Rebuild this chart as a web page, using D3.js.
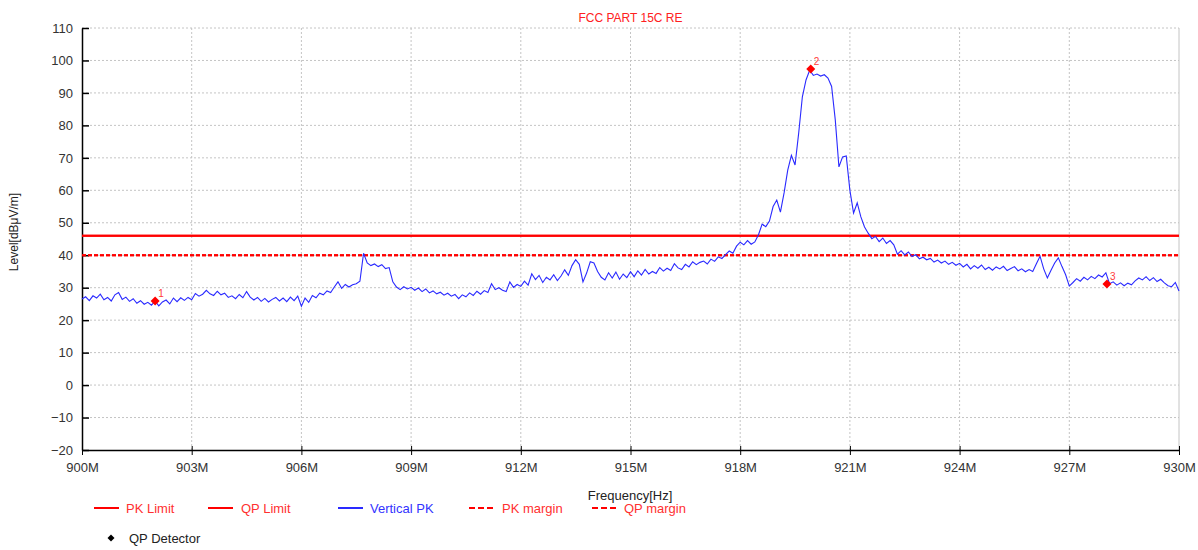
<!DOCTYPE html>
<html><head><meta charset="utf-8">
<script src="https://cdn.jsdelivr.net/npm/d3@7"></script>
<style>
body{margin:0;background:#fff;}
svg text{font-family:"Liberation Sans",Arial,sans-serif;}
</style></head>
<body><svg id="c" width="1198" height="550"></svg>
<script>
// ---- data ----
const freqStart = 900, freqStep = 0.1; // MHz
const verticalPK = [
26.5,27.2,26.0,27.5,26.8,28.0,26.3,27.0,25.9,27.8,
28.5,26.4,27.1,25.8,26.6,25.2,26.0,24.9,25.5,24.6,
25.9,24.4,25.6,26.2,25.0,26.8,25.7,26.9,26.1,27.0,
26.3,28.2,27.4,28.0,29.2,28.1,27.6,28.9,27.8,28.3,
27.0,27.5,26.6,27.9,26.9,28.8,27.1,26.2,27.0,25.8,
26.7,25.6,26.4,27.0,25.9,26.8,25.7,27.1,26.0,27.4,
24.3,26.8,25.5,27.6,26.9,28.3,27.8,29.0,28.5,30.2,
31.8,29.8,31.0,30.2,30.9,31.2,32.0,40.6,37.6,36.8,
37.3,36.5,37.1,35.9,36.2,31.8,30.2,29.4,30.3,29.6,
30.1,29.2,29.9,28.8,29.6,28.4,29.0,28.1,28.6,27.7,
28.3,27.4,27.9,26.6,27.8,27.2,28.4,27.6,28.9,28.0,
29.1,28.5,31.2,29.4,30.0,29.2,28.8,31.8,30.1,31.0,
30.4,32.0,30.8,34.3,32.5,33.8,31.6,33.2,32.4,34.0,
32.2,33.6,35.5,33.8,36.8,38.6,37.2,31.8,34.5,38.0,
37.6,35.0,33.2,32.4,34.6,33.0,34.8,32.6,34.2,33.1,
34.9,33.4,35.2,33.9,35.6,34.2,35.0,34.4,36.2,35.1,
36.0,35.3,37.4,36.1,35.6,37.2,36.4,38.0,37.1,37.8,
38.2,37.3,38.8,38.1,39.5,39.0,40.2,41.3,40.6,42.8,
44.0,43.2,44.5,43.4,44.1,46.3,49.6,48.8,50.5,55.0,
57.0,53.3,59.2,66.2,70.8,67.8,77.7,88.8,94.0,97.0,
95.4,95.8,95.2,95.6,94.6,92.0,81.7,67.2,70.3,70.6,
60.0,53.0,56.1,51.8,48.7,46.8,45.1,45.8,44.2,45.3,
43.6,44.5,43.2,40.3,41.4,40.1,41.0,39.6,40.2,38.9,
39.4,38.6,39.0,37.9,38.5,37.6,38.2,37.2,37.8,36.9,
37.5,36.4,37.2,35.8,36.8,36.0,37.0,35.6,36.3,35.4,
36.4,35.8,36.6,35.3,35.9,36.5,35.2,35.8,34.9,35.6,
35.0,37.4,39.7,35.8,33.0,35.4,37.6,39.2,36.5,34.0,
30.5,31.6,32.8,32.0,33.2,32.4,33.5,32.8,33.9,33.3,
34.6,31.2,31.8,30.8,31.5,30.6,31.4,30.9,32.1,33.0,
32.4,33.4,32.2,33.1,31.9,32.6,31.5,30.6,30.3,31.6,
29.0];
const pkLimit = 46;
const qpLimit = 46;
const pkMargin = 40;
const qpMargin = 40;
const markerFreq = [902.0, 919.93, 928.03];
const markerLevel = [25.9, 97.4, 31.1];
const markerLabel = ["1","2","3"];
const xTicks = [900,903,906,909,912,915,918,921,924,927,930];
const yTicks = [-20,-10,0,10,20,30,40,50,60,70,80,90,100,110];
const legendNames = ["PK Limit","QP Limit","Vertical PK","PK margin","QP margin"];
const title = "FCC PART 15C RE";
const xLabel = "Frequency[Hz]";
const yLabel = "Level[dBμV/m]";

// ---- layout ----
const svg = d3.select("#c");
const L = 82, R = 1179, T = 28, B = 450;
const x = d3.scaleLinear().domain([900,930]).range([L,R]);
const y = d3.scaleLinear().domain([-20,110]).range([B,T]);
const red = "#ff0000", blue = "#2a2aff";
const diamond = r => `M0,${-r}L${r},0L0,${r}L${-r},0Z`;

// grid
const g = svg.append("g");
g.selectAll(".gx").data(xTicks.slice(1)).enter().append("line")
  .attr("x1",d=>x(d)).attr("x2",d=>x(d)).attr("y1",T).attr("y2",B)
  .attr("stroke","#c4c4c4").attr("stroke-width",1).attr("stroke-dasharray",d=>d===930?null:"2,2");
g.selectAll(".gy").data(yTicks.slice(1)).enter().append("line")
  .attr("x1",L).attr("x2",R).attr("y1",d=>y(d)).attr("y2",d=>y(d))
  .attr("stroke","#c4c4c4").attr("stroke-width",1).attr("stroke-dasharray","2,2");

// axes
const ax = svg.append("g").attr("transform",`translate(0,${B})`)
  .call(d3.axisBottom(x).tickValues(xTicks).tickFormat(d=>d+"M").tickSizeOuter(0).tickSizeInner(5));
ax.selectAll(".tick line").attr("y1",-4).attr("stroke","#000");
ax.select(".domain").attr("stroke","#000").attr("stroke-width",1.5);
ax.selectAll("text").attr("font-size",13).attr("fill","#333").attr("dy","1.1em").attr("font-family","Liberation Sans, Arial");
const ay = svg.append("g").attr("transform",`translate(${L},0)`)
  .call(d3.axisLeft(y).tickValues(yTicks).tickSizeOuter(0).tickSizeInner(6));
ay.selectAll(".tick line").attr("x2",7).attr("stroke","#000").attr("stroke-width",1.5);
ay.select(".domain").attr("stroke","#000").attr("stroke-width",1.5);
ay.selectAll("text").attr("font-size",13).attr("fill","#333").attr("x",-9).attr("font-family","Liberation Sans, Arial");

// limit lines
const lim = svg.append("g");
lim.append("line").attr("x1",L).attr("x2",R).attr("y1",y(pkLimit)).attr("y2",y(pkLimit)).attr("stroke",red).attr("stroke-width",2);
lim.append("line").attr("x1",L).attr("x2",R).attr("y1",y(qpLimit)).attr("y2",y(qpLimit)).attr("stroke",red).attr("stroke-width",2);
lim.append("line").attr("x1",L).attr("x2",R).attr("y1",y(pkMargin)).attr("y2",y(pkMargin)).attr("stroke",red).attr("stroke-width",2).attr("stroke-dasharray","4,2");
lim.append("line").attr("x1",L).attr("x2",R).attr("y1",y(qpMargin)).attr("y2",y(qpMargin)).attr("stroke",red).attr("stroke-width",2).attr("stroke-dasharray","4,2");

// trace
const line = d3.line().x((d,i)=>x(freqStart+i*freqStep)).y(d=>y(d));
svg.append("path").attr("d",line(verticalPK)).attr("fill","none").attr("stroke",blue).attr("stroke-width",1.1);

// markers
const mk = svg.append("g");
markerFreq.forEach((f,i)=>{
  mk.append("path").attr("d",diamond(4.5))
    .attr("transform",`translate(${x(f)},${y(markerLevel[i])})`).attr("fill",red);
  mk.append("text").attr("x",x(f)+3).attr("y",y(markerLevel[i])-4).text(markerLabel[i])
    .attr("fill","#ff3b3b").attr("font-size",10);
});

// titles
svg.append("text").attr("x",(L+R)/2).attr("y",22).attr("text-anchor","middle").attr("font-size",12).attr("fill","#ff2020").text(title);
svg.append("text").attr("x",630).attr("y",500).attr("text-anchor","middle").attr("font-size",13).attr("fill","#222").text(xLabel);
svg.append("text").attr("transform","translate(18,232) rotate(-90)").attr("text-anchor","middle").attr("font-size",12).attr("fill","#222").text(yLabel);

// legend
const legX = [94,208,338,469,592];
const legTextX = [126,241,370,502,624];
const legColor = [red,red,blue,red,red];
const legText = ["#ff3030","#ff3030","#3333ff","#ff3030","#ff3030"];
const legDash = [null,null,null,"6,3","6,3"];
const lg = svg.append("g");
legendNames.forEach((n,i)=>{
  lg.append("line").attr("x1",legX[i]).attr("x2",legX[i]+25).attr("y1",508).attr("y2",508)
    .attr("stroke",legColor[i]).attr("stroke-width",2).attr("stroke-dasharray",legDash[i]);
  lg.append("text").attr("x",legTextX[i]).attr("y",513).attr("font-size",13).attr("fill",legText[i]).text(n);
});
lg.append("path").attr("d",diamond(3.5)).attr("transform","translate(111,538)").attr("fill","#000");
lg.append("text").attr("x",129).attr("y",543).attr("font-size",13).attr("fill","#222").text("QP Detector");
</script></body></html>
